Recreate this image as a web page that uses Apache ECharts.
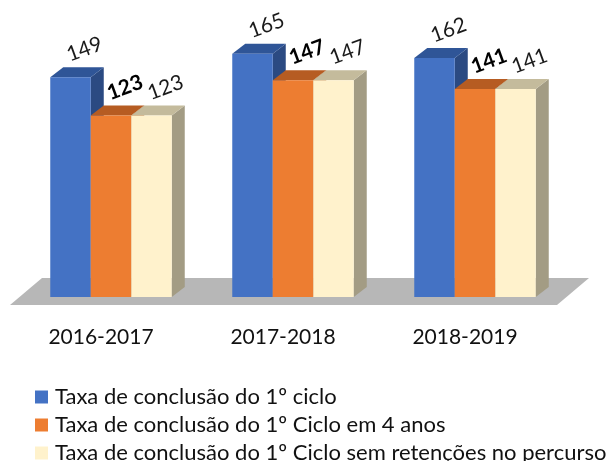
<!DOCTYPE html>
<html>
<head>
<meta charset="utf-8">
<script src="https://cdn.jsdelivr.net/npm/echarts@6/dist/echarts.min.js"></script>
<style>
  html, body { margin: 0; padding: 0; background: #fff; }
  #chart { width: 614px; height: 461px; }
</style>
</head>
<body>
<div id="chart"></div>
<script>
// anos letivos
const categories = ['2016-2017', '2017-2018', '2018-2019'];
const seriesNames = [
  'Taxa de conclusão do 1º ciclo',
  'Taxa de conclusão do 1º Ciclo em 4 anos',
  'Taxa de conclusão do 1º Ciclo sem retenções no percurso'
];
const conclusao = [149, 165, 162];
const conclusao4Anos = [123, 147, 141];
const semRetencoes = [123, 147, 141];

// cores: frente, topo, lado
const palette = [
  { front: '#4472C4', top: '#2F5597', side: '#2B4A82', label: '#1a1a1a', bold: false },
  { front: '#ED7D31', top: '#B65C22', side: '#9E4E1B', label: '#000000', bold: true },
  { front: '#FFF2CC', top: '#C4BB9C', side: '#A39C84', label: '#1a1a1a', bold: false }
];

const FONT = 'Lato, "Open Sans", sans-serif';
const DX = 13, DY = 10; // profundidade 3D

const chart = echarts.init(document.getElementById('chart'));

// gera o renderItem de uma série de barras 3D
const makeBar = (idx) => (params, api) => {
  const cat = api.value(0);
  const val = api.value(1);
  const band = api.size([1, 0])[0];
  const bw = band * 0.2225;
  const center = api.coord([cat, 0])[0] + (idx - 1) * bw;
  const x0 = center - bw / 2;
  const x1 = center + bw / 2;
  const yTop = api.coord([cat, val])[1];
  const yBot = api.coord([cat, 0])[1];
  const c = palette[idx];
  return {
    type: 'group',
    children: [
      {
        type: 'polygon',
        shape: { points: [[x1, yTop], [x1 + DX, yTop - DY], [x1 + DX, yBot - DY], [x1, yBot]] },
        style: { fill: c.side }
      },
      {
        type: 'polygon',
        shape: { points: [[x0, yTop], [x0 + DX, yTop - DY], [x1 + DX, yTop - DY], [x1, yTop]] },
        style: { fill: c.top }
      },
      {
        type: 'rect',
        shape: { x: x0, y: yTop, width: bw, height: yBot - yTop },
        style: { fill: c.front }
      },
      {
        type: 'text',
        x: center + 14,
        y: yTop - 28,
        rotation: 20 * Math.PI / 180,
        style: {
          text: String(val),
          fill: c.label,
          font: (c.bold ? 'bold ' : '') + '21px ' + FONT,
          align: 'center',
          verticalAlign: 'middle'
        }
      }
    ]
  };
};

// chão cinzento
const renderFloor = (params, api) => {
  const cs = params.coordSys;
  const yZero = api.coord([0, 0])[1];
  const left = cs.x - 10, right = cs.x + cs.width - 10;
  return {
    type: 'polygon',
    shape: {
      points: [
        [left, yZero + 8],
        [left + 32, yZero - 19],
        [right + 33, yZero - 19],
        [right + 1, yZero + 8]
      ]
    },
    style: { fill: '#B7B7B7' }
  };
};

const values = [conclusao, conclusao4Anos, semRetencoes];

const option = {
  animation: false,
  grid: { left: 20, right: 48, top: 2, bottom: 164 },
  legend: {
    data: seriesNames,
    orient: 'vertical',
    left: 35,
    top: 386,
    height: 120,
    padding: 0,
    itemWidth: 13,
    itemHeight: 13,
    itemGap: 6,
    icon: 'rect',
    textStyle: { fontFamily: FONT, fontSize: 22, color: '#111', padding: [0, 0, 0, 2] }
  },
  xAxis: {
    type: 'category',
    data: categories,
    axisLine: { show: false },
    axisTick: { show: false },
    axisLabel: {
      margin: 30,
      fontFamily: FONT,
      fontSize: 21,
      color: '#111',
      padding: [0, 20, 0, 0]
    }
  },
  yAxis: {
    type: 'value',
    min: 0,
    max: 200,
    show: false,
    splitLine: { show: false }
  },
  series: [
    {
      name: 'chao',
      type: 'custom',
      renderItem: renderFloor,
      data: [[0, 0]],
      silent: true,
      z: 1
    },
    ...seriesNames.map((name, i) => ({
      name,
      type: 'custom',
      renderItem: makeBar(i),
      itemStyle: { color: palette[i].front },
      data: values[i].map((v, k) => [k, v]),
      encode: { x: 0, y: 1 },
      z: 2 + i
    }))
  ]
};

chart.setOption(option);
</script>
</body>
</html>
